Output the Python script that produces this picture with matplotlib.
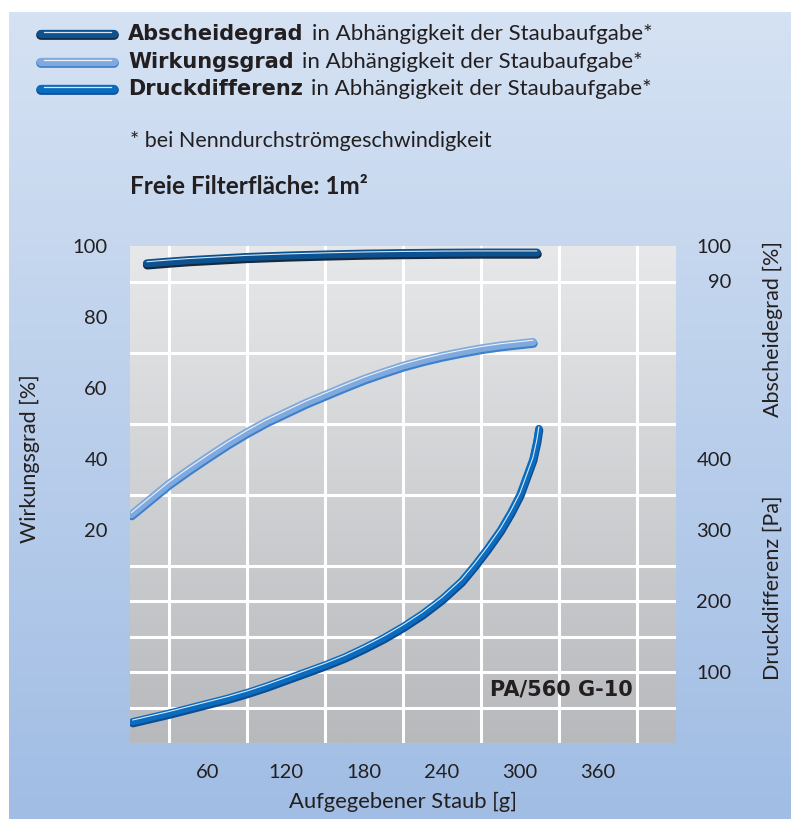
import numpy as np
import matplotlib
matplotlib.use('Agg')
import matplotlib.pyplot as plt
import matplotlib.transforms as mtransforms
from matplotlib.colors import LinearSegmentedColormap
from matplotlib.lines import Line2D

plt.rcParams['font.family'] = ['Lato', 'DejaVu Sans']

# --- data ---
# Abscheidegrad [%] vs. aufgegebener Staub [g]
abs_g = [13, 30, 45, 60, 90, 120, 150, 180, 210, 240, 270, 300, 313]
abs_val = [95.1, 95.6, 96.0, 96.3, 96.9, 97.3, 97.6, 97.85, 98.0, 98.1, 98.15, 98.15, 98.15]
# Wirkungsgrad [%]
wirk_g = [1, 30, 45, 60, 75, 90, 105, 120, 135, 150, 165, 180, 195, 210, 225, 240,
          255, 270, 285, 300, 310]
wirk_val = [24.4, 33.1, 37.0, 40.7, 44.3, 47.6, 50.6, 53.2, 55.8, 58.1, 60.4, 62.6,
            64.5, 66.3, 67.8, 69.1, 70.2, 71.2, 72.0, 72.6, 73.0]
# Druckdifferenz [Pa]
druck_g = [2, 30, 45, 60, 75, 90, 105, 120, 135, 150, 165, 180, 195, 210, 225, 240,
           255, 265, 275, 285, 293, 300, 305, 310, 313, 314.5]
druck_pa = [30, 42, 49, 56, 63, 71, 80, 90, 100, 110, 121, 134, 148, 164, 182, 203,
            228, 250, 274, 300, 325, 350, 375, 400, 425, 443]

left_ticks = [20, 40, 60, 80, 100]
abs_ticks = [90, 100]
pa_ticks = [100, 200, 300, 400]
x_ticks = [60, 120, 180, 240, 300, 360]


def pa_to_left(p):
    return (np.asarray(p, dtype=float) - 200) / 5.0


W, H = 791, 819
TXT = '#231f20'
fig = plt.figure(figsize=(W / 100, H / 100), dpi=100)

# background gradient panel
bg = fig.add_axes([9 / W, 0, 1 - 9 / W, 1 - 12 / H])
bg_cmap = LinearSegmentedColormap.from_list('bg', ['#d5e2f3', '#a1bde4'])
bg.imshow(np.linspace(0, 1, 256).reshape(-1, 1), aspect='auto', cmap=bg_cmap,
          extent=[0, 1, 0, 1], origin='upper')
bg.set_axis_off()

ax = fig.add_axes([130 / W, 76 / H, (676 - 130) / W, (743 - 246) / H])
ax.set_xlim(0, 420)
ax.set_ylim(-40, 100)
pa_cmap = LinearSegmentedColormap.from_list('pa', ['#e7e8ea', '#b8b9bc'])
ax.imshow(np.linspace(0, 1, 256).reshape(-1, 1), aspect='auto', cmap=pa_cmap,
          extent=[0, 420, -40, 100], origin='upper', zorder=0)
for s in ax.spines.values():
    s.set_visible(False)
ax.set_xticks(np.arange(30, 420, 30), minor=True)
ax.set_yticks(np.arange(-30, 100, 10), minor=True)
ax.grid(which='minor', color='white', lw=2.2, zorder=1)
ax.set_xticks(x_ticks)
ax.set_xticklabels([str(v) for v in x_ticks])
ax.set_yticks(left_ticks)
ax.set_yticklabels([str(v) for v in left_ticks])
ax.tick_params(which='both', length=0, labelsize=14.5, colors=TXT)
ax.tick_params(axis='x', pad=15)
ax.tick_params(axis='y', pad=16)


def tube(a, x, y, main, edge, lw):
    off_dn = mtransforms.offset_copy(a.transData, fig=fig, x=0.3, y=-1.2, units='points')
    off_up = mtransforms.offset_copy(a.transData, fig=fig, x=0, y=1.2, units='points')
    a.plot(x, y, color=edge, lw=lw, solid_capstyle='round', solid_joinstyle='round',
           transform=off_dn, zorder=3)
    a.plot(x, y, color=main, lw=lw - 0.6, solid_capstyle='round', solid_joinstyle='round',
           zorder=4)
    a.plot(x, y, color='white', lw=0.8, alpha=0.85, solid_capstyle='round',
           transform=off_up, zorder=5)


tube(ax, abs_g, abs_val, '#0c5190', '#15283c', 6.4)
tube(ax, wirk_g, wirk_val, '#80a9dd', '#3d80cc', 6.2)
tube(ax, druck_g, pa_to_left(druck_pa), '#0b6cbf', '#0a4d92', 5.8)

ax.text(0.921, 0.107, 'PA/560 G-10', transform=ax.transAxes, ha='right', va='center',
        fontsize=15, fontweight='bold', family='DejaVu Sans', color=TXT, zorder=6)

# right axis: Abscheidegrad + Druckdifferenz
ax2 = ax.twinx()
ax2.set_ylim(ax.get_ylim())
for s in ax2.spines.values():
    s.set_visible(False)
r_pos = list(abs_ticks) + list(pa_to_left(pa_ticks))
r_lab = [str(v) for v in abs_ticks] + [str(v) for v in pa_ticks]
ax2.set_yticks(r_pos)
ax2.set_yticklabels(r_lab, ha='right')
ax2.tick_params(length=0, labelsize=14.5, colors=TXT, pad=40)

ax.set_xlabel('Aufgegebener Staub [g]', fontsize=15.8, color=TXT)
ax.xaxis.set_label_coords(0.5, (743 - 792) / 497)
fig.text(30 / W, 1 - 459 / H, 'Wirkungsgrad [%]', rotation=90, ha='center', va='center',
         fontsize=15.5, color=TXT)
fig.text(773 / W, 1 - 329 / H, 'Abscheidegrad [%]', rotation=90, ha='center', va='center',
         fontsize=15.5, color=TXT)
fig.text(773 / W, 1 - 588 / H, 'Druckdifferenz [Pa]', rotation=90, ha='center', va='center',
         fontsize=15.5, color=TXT)

# legend
leg = [('Abscheidegrad', '#0c5190', '#15283c', 34),
       ('Wirkungsgrad', '#80a9dd', '#3d80cc', 62),
       ('Druckdifferenz', '#0b6cbf', '#0a4d92', 89)]
for name, main, edge, yy in leg:
    y = 1 - yy / H
    fig.add_artist(Line2D([41 / W, 114 / W], [y - 1.0 / H, y - 1.0 / H], color=edge, lw=7.0,
                          solid_capstyle='round'))
    fig.add_artist(Line2D([41 / W, 114 / W], [y, y], color=main, lw=6.0,
                          solid_capstyle='round'))
    fig.add_artist(Line2D([44 / W, 111 / W], [y + 1.6 / H, y + 1.6 / H], color='white',
                          lw=0.9, alpha=0.85))
    t = fig.text(128 / W, y, name, ha='left', va='center', fontsize=15,
                 fontweight='bold', family='DejaVu Sans', color=TXT)
    fig.canvas.draw()
    bb = t.get_window_extent()
    fig.text(bb.x1 / W + 8 / W, y, 'in Abhängigkeit der Staubaufgabe*', ha='left',
             va='center', fontsize=16, color=TXT)

fig.text(130 / W, 1 - 141 / H, '* bei Nenndurchströmgeschwindigkeit', ha='left',
         va='center', fontsize=15.5, color=TXT)
fig.text(130 / W, 1 - 186 / H, 'Freie Filterfläche: 1m²', ha='left',
         va='center', fontsize=17.5, fontweight='bold', color=TXT)

fig.savefig('out.png', dpi=100)
